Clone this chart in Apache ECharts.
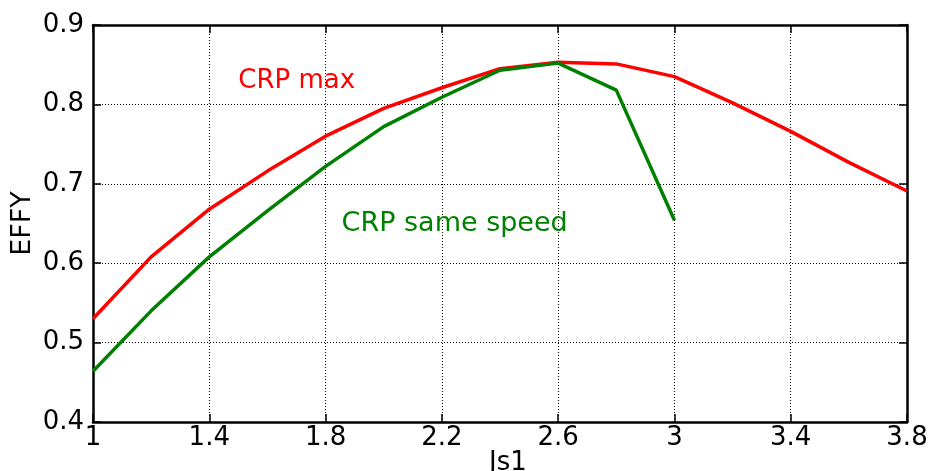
<!DOCTYPE html>
<html>
<head>
<meta charset="utf-8">
<script src="https://cdn.jsdelivr.net/npm/echarts@6/dist/echarts.min.js"></script>
<style>html,body{margin:0;padding:0;background:#fff;overflow:hidden}#c{width:930px;height:471px}</style>
</head>
<body>
<div id="c"></div>
<script>
const js1 = [1.0, 1.2, 1.4, 1.6, 1.8, 2.0, 2.2, 2.4, 2.6, 2.8, 3.0, 3.2, 3.4, 3.6, 3.8];
const crpMax = [0.530, 0.608, 0.668, 0.716, 0.760, 0.795, 0.821, 0.845, 0.853, 0.851, 0.835, 0.802, 0.766, 0.727, 0.691];
const crpSame = [0.464, 0.540, 0.608, 0.666, 0.722, 0.772, 0.809, 0.843, 0.852, 0.818, 0.654];
const xTicks = [1, 1.4, 1.8, 2.2, 2.6, 3, 3.4, 3.8];
const yTicks = [0.4, 0.5, 0.6, 0.7, 0.8, 0.9];
const labelMax = {text: 'CRP max', x: 1.50, y: 0.8295};
const labelSame = {text: 'CRP same speed', x: 1.855, y: 0.650};

const FONT = 'DejaVu Sans';
const fmt = v => String(Math.round(v * 100) / 100);

const chart = echarts.init(document.getElementById('c'), null, {renderer: 'canvas', width: 930, height: 471});
const axisLine = {show: true, lineStyle: {color: '#000', width: 2.5}};
const tick = {show: true, inside: true, length: 8, lineStyle: {color: '#000', width: 1.5}};
const grid = {show: true, lineStyle: {color: '#000', type: [1, 2], width: 1}};

function pairs(xs, ys) { return ys.map((v, i) => [xs[i], v]); }

chart.setOption({
  animation: false,
  backgroundColor: '#fff',
  grid: {left: 93, right: 23, top: 25, bottom: 49, containLabel: false, outerBoundsMode: 'none'},
  xAxis: [{
    type: 'value', min: xTicks[0], max: xTicks[xTicks.length - 1], interval: 0.4,
    name: 'Js1', nameLocation: 'middle', nameGap: 28, nameMoveOverlap: false,
    nameTextStyle: {fontFamily: FONT, fontSize: 26, color: '#000', padding: [0, 0, 0, 16]},
    axisLine, axisTick: tick, splitLine: grid,
    axisLabel: {fontFamily: FONT, fontSize: 26, color: '#000', margin: 3, formatter: fmt, showMaxLabel: true, showMinLabel: true}
  }, {
    type: 'value', position: 'top', min: xTicks[0], max: xTicks[xTicks.length - 1], interval: 0.4,
    axisLine, axisTick: tick, splitLine: {show: false}, axisLabel: {show: false}
  }],
  yAxis: [{
    type: 'value', min: yTicks[0], max: yTicks[yTicks.length - 1], interval: 0.1,
    name: 'EFFY', nameLocation: 'middle', nameGap: 57, nameMoveOverlap: false,
    nameTextStyle: {fontFamily: FONT, fontSize: 27, color: '#000'},
    axisLine, axisTick: tick, splitLine: grid,
    axisLabel: {fontFamily: FONT, fontSize: 26, color: '#000', margin: 9, formatter: fmt, padding: [0, 0, 6, 0]}
  }, {
    type: 'value', position: 'right', min: yTicks[0], max: yTicks[yTicks.length - 1], interval: 0.1,
    axisLine, axisTick: tick, splitLine: {show: false}, axisLabel: {show: false}
  }],
  series: [{
    type: 'line', name: 'CRP max', data: pairs(js1, crpMax),
    showSymbol: false, symbol: 'none', lineStyle: {color: '#ff0000', width: 3.5}, z: 3,
    markPoint: {
      symbol: 'circle', symbolSize: 0,
      label: {show: true, position: 'right', distance: 0, formatter: labelMax.text, fontFamily: FONT, fontSize: 26, color: '#ff0000'},
      data: [{coord: [labelMax.x, labelMax.y]}]
    }
  }, {
    type: 'line', name: 'CRP same speed', data: pairs(js1, crpSame),
    showSymbol: false, symbol: 'none', lineStyle: {color: '#008000', width: 3.5}, z: 4,
    markPoint: {
      symbol: 'circle', symbolSize: 0,
      label: {show: true, position: 'right', distance: 0, formatter: labelSame.text, fontFamily: FONT, fontSize: 27, color: '#008000'},
      data: [{coord: [labelSame.x, labelSame.y]}]
    }
  }]
});
</script>
</body>
</html>
